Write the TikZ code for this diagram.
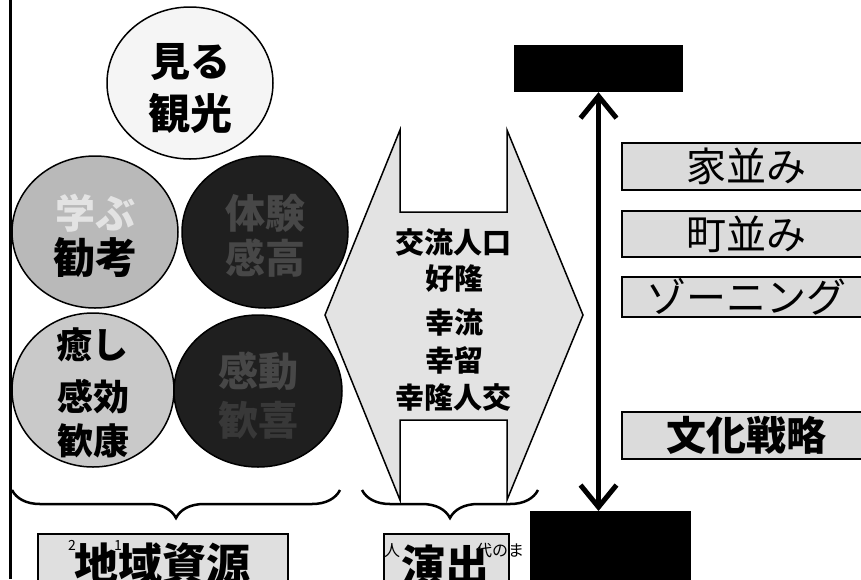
\documentclass[tikz,border=0pt]{standalone}
\usepackage{fontspec}
\setmainfont{Noto Sans CJK JP}
\usetikzlibrary{shapes.geometric,arrows.meta,decorations.pathreplacing}
\begin{document}
\begin{tikzpicture}[x=1pt,y=-1pt,
  circ/.style={ellipse,draw,line width=1.5pt,minimum width=166pt,minimum height=152pt,inner sep=0pt},
  big/.style={font=\fontsize{40}{40}\selectfont\bfseries,inner sep=0pt},
  bigb/.style={font=\fontsize{42}{42}\selectfont\bfseries,inner sep=0pt},
  mid/.style={font=\fontsize{36}{36}\selectfont\bfseries,inner sep=0pt},
  hex/.style={font=\fontsize{29}{29}\selectfont\bfseries,inner sep=0pt},
  rbox/.style={draw,line width=1.5pt,fill=gray!28,minimum width=250pt,anchor=west,inner sep=0pt,font=\fontsize{40}{40}\selectfont},
  lbox/.style={draw,line width=1.5pt,fill=gray!25,anchor=north west,inner sep=0pt},
  brc/.style={line width=2.5pt,decorate,decoration={brace,mirror,amplitude=28pt,aspect=0.5}},
  small/.style={font=\fontsize{14}{14}\selectfont,inner sep=0pt}
]
\useasboundingbox (0,0) rectangle (861,579);
\clip (0,0) rectangle (861,579);
\fill[white] (0,0) rectangle (861,579);
% left border line
\coordinate (lt) at (10,0);
\coordinate (lb) at (10,579);
\draw[line width=3pt] (lt) -- (lb);
% circles
\node[circ,fill=gray!8] (kanko) at (190,83) {};
\node[circ,fill=gray!55] (manabu) at (95,232) {};
\node[circ,fill=black!88] (taiken) at (265,232) {};
\node[circ,fill=gray!42,minimum width=162pt,minimum height=154pt] (iyashi) at (93,390) {};
\node[circ,fill=black!88,minimum width=168pt] (kando) at (258,391) {};
% circle texts
\node[big] (t1) at (190,62) {見る};
\node[bigb] (t2) at (190,113) {観光};
\node[big,text=gray!22] (t3) at (95,213) {学ぶ};
\node[bigb] (t4) at (95,258) {勧考};
\node[big,text=black!72] (t5) at (265,213) {体験};
\node[big,text=black!72] (t6) at (265,258) {感高};
\node[mid] (t7) at (92,345) {癒し};
\node[mid] (t8) at (93,397) {感効};
\node[mid] (t9) at (93,441) {歓康};
\node[big,text=black!72] (t10) at (258,371) {感動};
\node[big,text=black!78] (t11) at (258,420) {歓喜};
% hexagon
\draw[line width=1.5pt,fill=gray!22] (400,130) -- (400,212) -- (507,212) -- (507,130) -- (583,315) -- (507,500) -- (507,420) -- (400,420) -- (400,500) -- (325,315) -- cycle;
\fill[white] (401.5,128) rectangle (505.5,210.5);
\fill[white] (401.5,421.5) rectangle (505.5,502);
\node[hex] (h1) at (453,242) {交流人口};
\node[hex] (h2) at (454,279) {好隆};
\node[hex] (h3) at (454,322) {幸流};
\node[hex] (h4) at (454,360) {幸留};
\node[hex] (h5) at (453,397) {幸隆人交};
% braces
\draw[brc] (12,490) -- (340,490);
\draw[brc] (362,490) -- (538,490);
% bottom left boxes
\node[lbox,minimum width=250pt,minimum height=60pt] (chiiki) at (37,533) {};
\node[bigb,font=\fontsize{44}{44}\selectfont\bfseries] (chiikit) at (162,564) {地域資源};
\node[small] (s1) at (72,545) {2};
\node[small] (s2) at (118,545) {1};
\node[lbox,minimum width=125pt,minimum height=60pt] (ensh) at (383,533) {};
\node[small,font=\fontsize{16}{16}\selectfont] (s3) at (392,551) {人};
\node[bigb,font=\fontsize{44}{44}\selectfont\bfseries] (ensht) at (445,566) {演出};
\node[small,font=\fontsize{16}{16}\selectfont] (s4) at (500,551) {代のま};
% black boxes
\node[fill=black,minimum width=169pt,minimum height=47pt,inner sep=0pt] (topb) at (598.5,68.5) {};
\node[fill=black,minimum width=161pt,minimum height=72pt,inner sep=0pt,anchor=north west] (botb) at (530,511) {};
% double arrow
\draw[line width=5pt,{Straight Barb[length=22pt,width=36pt]}-{Straight Barb[length=22pt,width=36pt]}] (topb.south) -- (topb.south |- botb.north);
% right boxes
\node[rbox,minimum height=47pt] (r1) at (621,166.5) {家並み};
\node[rbox,minimum height=46pt] (r2) at (621,234) {町並み};
\node[rbox,minimum height=40pt] (r3) at (621,297) {ゾーニング};
\node[rbox,minimum height=47pt,font=\fontsize{40}{40}\selectfont\bfseries] (r4) at (621,435.5) {文化戦略};
\end{tikzpicture}
\end{document}
